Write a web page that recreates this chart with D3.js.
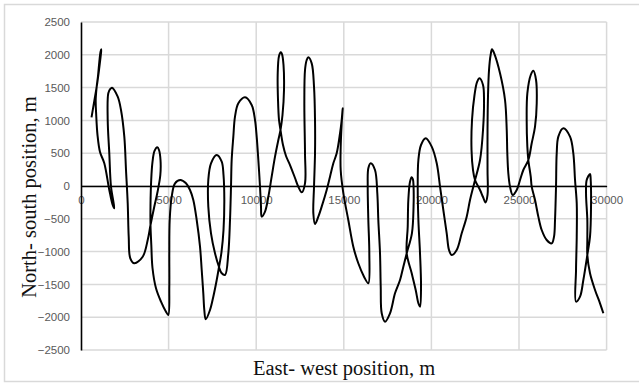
<!DOCTYPE html>
<html>
<head>
<meta charset="utf-8">
<script src="https://cdn.jsdelivr.net/npm/d3@7"></script>
<style>
    body { margin: 0; background: #fff; }
    svg { display: block; }
</style>
</head>
<body>
<div id="elements"></div>
<script>

// Track points, east-west position (m):
var eastWest = [
    600, 740, 896, 1027, 1130, 1159, 1113, 1045, 970, 896, 839, 868, 942, 1085, 1330, 1615, 1809, 1901,
    1712, 1615, 1524, 1558, 1672, 1769, 2095, 2283, 2472, 2569, 2666, 2723, 2814, 3043,
    3522, 3807, 3967, 4167, 4367, 4527, 4538, 4452, 4355, 4196, 4081, 4007, 3967, 3967, 4013, 4081,
    4281, 4566, 4852, 4983, 5040, 5040, 5063, 5177, 5366, 5668, 5993, 6222, 6410, 6604, 6793, 6890,
    6981, 7038, 7118, 7363, 7552, 7746, 7877, 8020, 8134, 8180, 8134, 8031, 7746, 7420, 7266, 7266,
    7420, 7649, 7877, 8020, 8220, 8408, 8505, 8562, 8600, 8695, 8790, 8981, 9361, 9742, 9932, 10027,
    10122, 10217, 10274, 10313, 10503, 10693, 10883, 11074, 11264, 11387, 11501, 11587, 11559, 11473,
    11405, 11302, 11226, 11245, 11302, 11387, 11530, 11702, 11930, 12215, 12386, 12597, 12786, 12786,
    12748, 12786, 12883, 12975, 13168, 13300, 13357, 13357, 13300, 13262, 13357, 13547, 13738, 14023,
    14213, 14403, 14594, 14784, 14880, 14937, 14880, 14823, 14823, 14975, 15257, 15543, 15828, 16154,
    16400, 16457, 16400, 16365, 16400, 16536, 16781, 16913, 16970, 17067, 17107, 17164, 17352, 17637,
    17923, 18209, 18398, 18591, 18888, 18981, 18981, 18945, 18876, 18779, 18683, 18648, 18591, 18876,
    19104, 19257, 19350, 19407, 19350, 19257, 19219, 19257, 19407, 19675, 20018, 20304, 20493, 20681,
    20874, 21006, 21159, 21444, 21730, 22015, 22204, 22393, 22490, 22775, 22946, 23003, 22946, 22747,
    22604, 22461, 22318, 22290, 22375, 22490, 22775, 22946, 23089, 23204, 23204, 23204, 23232, 23289,
    23380, 23460, 23600, 23917, 24202, 24300, 24333, 24390, 24487, 24641, 24869, 25059, 25247, 25533,
    25725, 25915, 26012, 25973, 25819, 25670, 25476, 25438, 25476, 25533, 25670, 25725, 25915, 26103,
    26296, 26581, 26867, 26999, 27056, 27113, 27152, 27245, 27530, 27913, 28101, 28198, 28295, 28295,
    28255, 28255, 28483, 28673, 28900, 29053, 29111, 29093, 29053, 28864, 28826, 28900, 28900, 28900,
    29053, 29339, 29624, 29815
];

// Track points, north-south position (m):
var northSouth = [
    1047, 1265, 1514, 1768, 1997, 2084, 2043, 1890, 1677, 1514, 1311, 1082, 777, 518, 346, -61, -290, -340,
    -10, 498, 1006, 1413, 1479, 1499, 1361, 1159, 752, 244, -264, -772, -1102, -1178,
    -1078, -823, -595, -335, -91, 168, 396, 549, 590, 534, 366, 91, -290, -595, -899, -1250,
    -1560, -1763, -1916, -1966, -1535, -1026, -518, -163, 41, 91, 41, -61, -213, -518, -925, -1280,
    -1636, -1890, -2032, -1890, -1687, -1433, -1235, -1006, -671, -213, 168, 370, 473, 346, 91, -315,
    -721, -1026, -1235, -1326, -1357, -1026, -518, -10, 396, 752, 1057, 1260, 1352, 1235, 1006, 752,
    396, -10, -315, -467, -391, -163, 142, 447, 701, 854, 1082, 1463, 1845, 2012,
    2038, 1982, 1692, 1311, 1006, 854, 625, 457, 320, 122, 0, -97, 41, 498,
    1260, 1768, 1921, 1962, 1870, 1514, 1006, 498, -10, -417, -579, -467, -315, -61,
    142, 346, 498, 803, 1006, 1184, 955, 600, 244, -112, -518, -925, -1178, -1382,
    -1483, -1026, -518, -10, 270, 346, 244, -112, -518, -1026, -1535, -1941, -2068, -1941,
    -1636, -1433, -1230, -1026, -721, -315, -10, 102, 133, 66, -213, -620, -1026, -1331,
    -1585, -1788, -1840, -1535, -1026, -518, -10, 396, 625, 727, 600, 346, -10, -366,
    -721, -976, -1052, -976, -721, -467, -213, -10, 91, 396, 854, 1311, 1540, 1642,
    1585, 1387, 1006, 549, 244, 91, -61, -168, -252, -137, 244, 854, 1387, 1768,
    1997, 2084, 2010, 1718, 1311, 854, 498, 194, -10, -137, -61, 91, 244, 396,
    651, 904, 1260, 1616, 1758, 1692, 1413, 1006, 600, 396, 142, -10, -213, -467,
    -671, -823, -874, -772, -518, -10, 498, 752, 880, 752, 498, 91, -264, -772,
    -1280, -1763, -1687, -1433, -1052, -772, -315, 91, 183, 91, -112, -518, -823, -1052,
    -1331, -1585, -1788, -1940
];

// Tick labels:
var xTicks = [0, 5000, 10000, 15000, 20000, 25000, 30000];
var yTicks = [2500, 2000, 1500, 1000, 500, 0, -500, -1000, -1500, -2000, -2500];

var xTitle = "East- west position, m";
var yTitle = "North- south position, m";

var svg_width = 639,
    svg_height = 383;

var svg = d3.select("#elements").append("svg")
    .attr("width", svg_width)
    .attr("height", svg_height);

// Outer frame:
svg.append("rect")
    .attr("x", 4.5)
    .attr("y", 4.5)
    .attr("width", 640)
    .attr("height", 377)
    .attr("fill", "none")
    .attr("stroke", "#d9d9d9")
    .attr("stroke-width", 1.5);

var x = d3.scaleLinear().domain([0, 30000]).range([81, 606.6]);
var y = d3.scaleLinear().domain([-2500, 2500]).range([350, 22]);

// Grid:
var grid = svg.append("g").attr("stroke", "#d9d9d9").attr("stroke-width", 1.5);
grid.selectAll("line.h")
    .data(yTicks)
    .join("line")
    .attr("class", "h")
    .attr("x1", x(0))
    .attr("x2", x(30000))
    .attr("y1", d => y(d))
    .attr("y2", d => y(d));
grid.selectAll("line.v")
    .data(xTicks.slice(1))
    .join("line")
    .attr("class", "v")
    .attr("x1", d => x(d))
    .attr("x2", d => x(d))
    .attr("y1", y(2500))
    .attr("y2", y(-2500));

// Axes: x labels sit just under the zero line
var xAxis = svg.append("g")
    .attr("transform", "translate(0," + y(0) + ")")
    .call(d3.axisBottom(x).tickValues(xTicks).tickFormat(d3.format("d")).tickSize(0).tickPadding(10));

var yAxis = svg.append("g")
    .attr("transform", "translate(" + x(0) + ",0)")
    .call(d3.axisLeft(y).tickValues(yTicks).tickFormat(d3.format("d")).tickSize(0).tickPadding(11));

svg.selectAll(".tick text")
    .attr("fill", "#595959")
    .style("font-family", "'Liberation Sans', Arial, sans-serif")
    .style("font-size", "11.5px");

xAxis.select(".domain").attr("stroke", "#000").attr("stroke-width", 1.6);
yAxis.select(".domain").attr("stroke", "#000").attr("stroke-width", 1.6);

// Track:
var points = eastWest.map(function (d, i) {
    return [d, northSouth[i]];
});

var line = d3.line()
    .x(d => x(d[0]))
    .y(d => y(d[1]))
    .curve(d3.curveCatmullRom.alpha(0.5));

svg.append("path")
    .datum(points)
    .attr("d", line)
    .attr("fill", "none")
    .attr("stroke", "#000")
    .attr("stroke-width", 2)
    .attr("stroke-linejoin", "round");

// Titles:
svg.append("text")
    .attr("x", 344)
    .attr("y", 375)
    .attr("text-anchor", "middle")
    .attr("fill", "#111")
    .style("font-family", "'Liberation Serif', 'Times New Roman', serif")
    .style("font-size", "20.5px")
    .text(xTitle);

svg.append("text")
    .attr("transform", "translate(36,197) rotate(-90)")
    .attr("text-anchor", "middle")
    .attr("fill", "#111")
    .style("font-family", "'Liberation Serif', 'Times New Roman', serif")
    .style("font-size", "20.5px")
    .text(yTitle);

</script>
</body>
</html>
